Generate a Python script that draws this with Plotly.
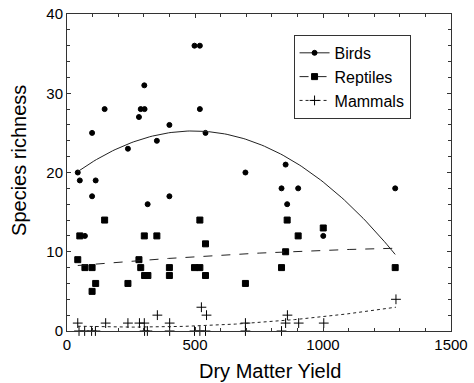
import numpy as np
import plotly.graph_objects as go

# ---- data ----
birds_x = [42, 50, 112, 98, 147, 238, 281, 288, 303, 302, 351, 400, 498, 519,
           519, 541, 697, 98, 315, 400, 70, 854, 838, 903, 860, 1282, 1001]
birds_y = [20, 19, 19, 25, 28, 23, 27, 28, 28, 31, 24, 26, 36, 36,
           28, 25, 20, 17, 16, 17, 12, 21, 18, 18, 16, 18, 12]

reptiles_x = [42, 50, 70, 98, 98, 112, 147, 238, 281, 288, 302, 303, 316, 351,
              400, 400, 498, 519, 519, 541, 541, 697, 860, 903, 1001, 854, 838, 1282]
reptiles_y = [9, 12, 8, 8, 5, 6, 14, 6, 9, 8, 12, 7, 7, 12,
              8, 7, 8, 14, 8, 11, 7, 6, 14, 12, 13, 10, 8, 8]

mammals_x = [42, 151, 238, 283, 302, 353, 401, 525, 545, 697, 861, 854, 905, 1003,
             1285, 47, 69, 96, 111, 303, 314, 401, 498, 519, 541, 697, 838]
mammals_y = [1, 1, 1, 1, 1, 2, 1, 3, 2, 1, 2, 1, 1, 1,
             4, 0, 0, 0, 0, 0, 0, 0, 0, 0, 0, 0, 0]

x_ticks = [0, 500, 1000, 1500]
y_ticks = [0, 10, 20, 30, 40]

FONT = "Liberation Sans, Arial, sans-serif"


def quad_fit(xs, ys):
    xs = np.asarray(xs, float)
    ys = np.asarray(ys, float)
    coef = np.polyfit(xs, ys, 2)
    gx = np.linspace(xs.min(), xs.max(), 120)
    return gx, np.polyval(coef, gx)


fig = go.Figure()

series = [
    ("Birds", birds_x, birds_y, "circle", 5, "solid"),
    ("Reptiles", reptiles_x, reptiles_y, "square", 6, "dash"),
    ("Mammals", mammals_x, mammals_y, "cross-thin", 7, "dot"),
]

for name, xs, ys, sym, size, dash in series:
    gx, gy = quad_fit(xs, ys)
    fig.add_trace(go.Scatter(
        x=xs, y=ys, mode="markers", name=name, legendgroup=name,
        showlegend=False,
        marker=dict(symbol=sym, size=size, color="black",
                    line=dict(color="black", width=1)),
        cliponaxis=False,
    ))
    fig.add_trace(go.Scatter(
        x=gx, y=gy, mode="lines+markers", name=name, legendgroup=name,
        line=dict(color="#222222", width=1, dash=dash),
        marker=dict(symbol=sym, size=size, color="black",
                    line=dict(color="black", width=1)),
        selectedpoints=[],
        unselected=dict(marker=dict(opacity=0)),
    ))

axis_common = dict(
    showline=True, linecolor="#333333", linewidth=1, mirror="ticks",
    ticks="inside", ticklen=4, tickcolor="#333333", tickwidth=1,
    showgrid=False, zeroline=False, automargin=False,
    tickfont=dict(family=FONT, size=15, color="black"),
)

fig.update_xaxes(
    range=[0, 1500], tickvals=x_ticks,
    minor=dict(dtick=100, ticks="inside", ticklen=3, tickcolor="#333333"),
    **axis_common,
)
fig.update_yaxes(
    range=[0, 40], tickvals=y_ticks,
    minor=dict(dtick=2, ticks="inside", ticklen=3, tickcolor="#333333"),
    **axis_common,
)

title_font = dict(family=FONT, size=20, color="black")
fig.add_annotation(text="Dry Matter Yield", xref="paper", yref="paper",
                   x=0.528, y=-0.127, xanchor="center", yanchor="middle",
                   showarrow=False, font=title_font)
fig.add_annotation(text="Species richness", xref="paper", yref="paper",
                   x=-0.1246, y=0.537, xanchor="center", yanchor="middle",
                   textangle=-90, showarrow=False, font=title_font)

fig.update_layout(
    width=474, height=383,
    margin=dict(l=67, r=23, t=14, b=52),
    paper_bgcolor="white", plot_bgcolor="white",
    font=dict(family=FONT, color="black"),
    legend=dict(
        x=0.59, y=0.934, xanchor="left", yanchor="top",
        bgcolor="white", bordercolor="#333333", borderwidth=1,
        font=dict(family=FONT, size=16, color="black"),
        itemwidth=30, tracegroupgap=0,
    ),
)

fig.write_html("out.html",
               config={"displayModeBar": False},
               post_script="document.body.style.margin='0';"
                           "document.body.style.overflow='hidden';")
